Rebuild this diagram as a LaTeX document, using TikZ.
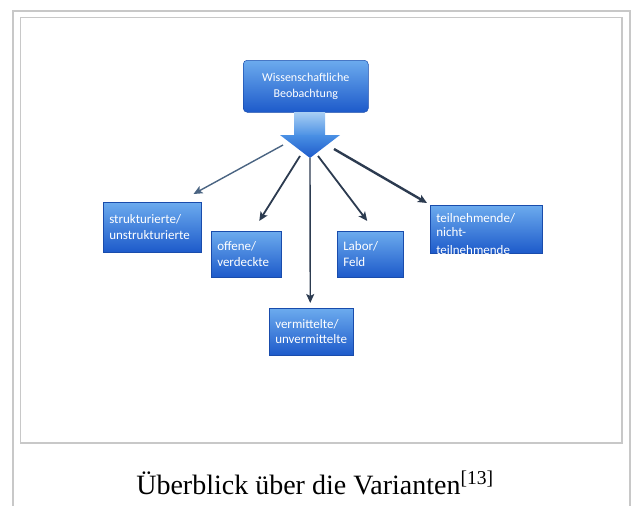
\documentclass[tikz,border=0pt]{standalone}
\usepackage{fontspec}
\setmainfont{Liberation Serif}
\newfontfamily\kastenfont{Carlito}
\usepackage{tikz}
\usetikzlibrary{arrows.meta}

\definecolor{rahmen}{HTML}{C8C8C8}
\definecolor{hellblau}{HTML}{6CABEE}
\definecolor{dunkelblau}{HTML}{1D5ACA}
\definecolor{pfeilhell}{HTML}{A9CFF4}
\definecolor{pfeilmittel}{HTML}{4A90E4}
\definecolor{linie}{HTML}{2C3B50}
\definecolor{linieblass}{HTML}{4A6482}

\begin{document}
\begin{tikzpicture}[
    x=1pt, y=-1pt,
    box/.style={rectangle, draw=dunkelblau!85!black, line width=0.5pt,
                top color=hellblau, bottom color=dunkelblau, text=white,
                font=\kastenfont\fontsize{13}{15.5}\selectfont,
                align=left, anchor=north west, inner xsep=6pt, inner ysep=6pt},
    verbinder/.style={-{Stealth[length=9pt, width=8pt, inset=2pt]}, draw=linie, line width=1.8pt}
]
\useasboundingbox (0,0) rectangle (632,506);

% Rahmen
\draw[rahmen, line width=2pt] (13,507) -- (13,11) -- (630,11) -- (630,507);
\draw[rahmen, line width=1.3pt] (20.5,17.5) rectangle (622,443);

% Kaesten
\node[box, rounded corners=4pt, align=center, minimum width=125pt,
      minimum height=52pt, text width=113pt,
      font=\kastenfont\fontsize{12}{15.5}\selectfont] (oben) at (243,60)
      {Wissenschaftliche\\Beobachtung};

\node[box, minimum width=98pt, minimum height=50pt, text width=86pt]
      (struk) at (103,202) {strukturierte/\\unstrukturierte};
\node[box, minimum width=70pt, minimum height=46pt, text width=58pt]
      (offen) at (211,231) {offene/\\verdeckte};
\node[box, minimum width=84pt, minimum height=47pt, text width=72pt]
      (verm) at (269,308) {vermittelte/\\unvermittelte};
\node[box, minimum width=66pt, minimum height=46pt, text width=54pt]
      (labor) at (337,231) {Labor/\\Feld};
\node[box, inner ysep=2.5pt, minimum width=112pt, minimum height=48pt, text width=100pt,
      font=\kastenfont\fontsize{13}{14}\selectfont]
      (teil) at (430,205)
      {\rule{0pt}{15pt}teilnehmende/\\nicht-\\\raisebox{-4pt}[0pt][0pt]{teilnehmende}};

% grosser Pfeil
\shade[top color=pfeilhell, bottom color=pfeilmittel] (294,112) rectangle (325,136);
\shade[top color=pfeilmittel, bottom color=dunkelblau]
      (280,135) -- (340,135) -- (310,158) -- cycle;
\coordinate (spitze) at (310,158);
\coordinate (a1) at (283,145);
\coordinate (a2) at (300,156);
\coordinate (a4) at (318,156);
\coordinate (a5) at (334,149);

% Verbindungen
\draw[verbinder, line width=1.4pt, draw=linieblass] (a1) -- ([shift={(-8,-8)}]struk.north east);
\draw[verbinder] (a2) -- ([shift={(13,-10)}]offen.north);
\draw[verbinder, line width=1.4pt] (spitze) -- ([shift={(-1,-5)}]verm.north);
\draw[verbinder] (a4) -- ([shift={(-3,-10)}]labor.north);
\draw[verbinder, line width=2.4pt] (a5) -- ([shift={(-3,-2)}]teil.north west);

% Bildunterschrift
\node[font=\fontsize{28}{32}\selectfont, anchor=base] (titel) at (315,494)
      {Überblick über die Varianten\textsuperscript{[13]}};

\end{tikzpicture}
\end{document}
